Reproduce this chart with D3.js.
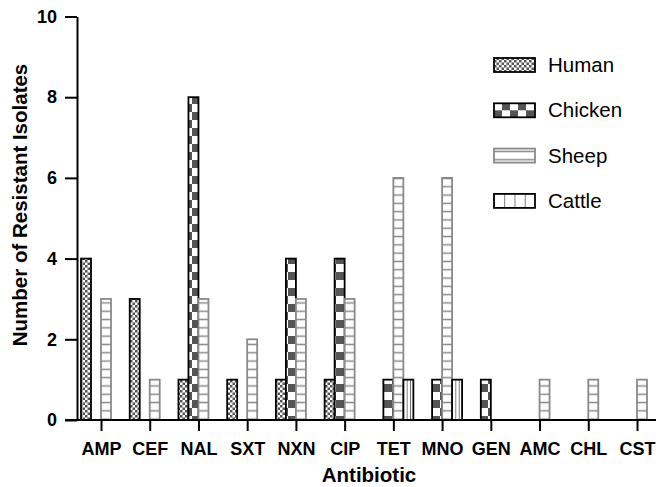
<!DOCTYPE html>
<html>
<head>
<meta charset="utf-8">
<script src="https://cdn.jsdelivr.net/npm/d3@7"></script>
<style>
  body { margin: 0; background: #fff; }
  svg { display: block; font-family: "Liberation Sans", Arial, Helvetica, sans-serif; }
</style>
</head>
<body>
<div id="chart"></div>
<script>
// data
const antibiotics = ["AMP", "CEF", "NAL", "SXT", "NXN", "CIP", "TET", "MNO", "GEN", "AMC", "CHL", "CST"];
const hosts = ["Human", "Chicken", "Sheep", "Cattle"];
const human   = [4, 3, 1, 1, 1, 1, 0, 0, 0, 0, 0, 0];
const chicken = [0, 0, 8, 0, 4, 4, 1, 1, 1, 0, 0, 0];
const sheep   = [3, 1, 3, 2, 3, 3, 6, 6, 0, 1, 1, 1];
const cattle  = [0, 0, 0, 0, 0, 0, 1, 1, 0, 0, 0, 0];
const yTicks = [0, 2, 4, 6, 8, 10];

const values = { Human: human, Chicken: chicken, Sheep: sheep, Cattle: cattle };
const bars = [];
antibiotics.forEach((ab, i) => {
  hosts.forEach((h) => {
    if (values[h][i] > 0) bars.push({ antibiotic: ab, host: h, value: values[h][i] });
  });
});

//size
const width = 656;
const height = 487;
const axisX = 77;
const axisY = 420;

//scale
const x0 = d3.scalePoint().domain(antibiotics).range([101, 637]);
const x1 = d3.scaleBand().domain(hosts).range([-20, 20]);
const y = d3.scaleLinear().domain([0, 10]).range([axisY, 16.5]);

const stroke = { Human: "#000", Chicken: "#000", Sheep: "#8a8a8a", Cattle: "#000" };

const svg = d3.select("#chart")
  .append("svg")
  .attr("width", width)
  .attr("height", height);

//patterns
const defs = svg.append("defs");
const dark = "#555";

const pHuman = defs.append("pattern").attr("id", "p-human")
  .attr("patternUnits", "userSpaceOnUse").attr("width", 5).attr("height", 5);
pHuman.append("rect").attr("width", 5).attr("height", 5).attr("fill", "#fff");
pHuman.append("rect").attr("width", 2.5).attr("height", 2.5).attr("fill", dark);
pHuman.append("rect").attr("x", 2.5).attr("y", 2.5).attr("width", 2.5).attr("height", 2.5).attr("fill", dark);

const pChicken = defs.append("pattern").attr("id", "p-chicken")
  .attr("patternUnits", "userSpaceOnUse").attr("width", 16).attr("height", 16);
pChicken.append("rect").attr("width", 16).attr("height", 16).attr("fill", "#fff");
pChicken.append("rect").attr("width", 8).attr("height", 8).attr("fill", dark);
pChicken.append("rect").attr("x", 8).attr("y", 8).attr("width", 8).attr("height", 8).attr("fill", dark);

const pSheep = defs.append("pattern").attr("id", "p-sheep")
  .attr("patternUnits", "userSpaceOnUse").attr("width", 10).attr("height", 8.3);
pSheep.append("rect").attr("width", 10).attr("height", 8.3).attr("fill", "#fff");
pSheep.append("rect").attr("y", 3.4).attr("width", 10).attr("height", 1.5).attr("fill", "#8a8a8a");

function cattlePattern(id, frac) {
  const p = defs.append("pattern").attr("id", id)
    .attr("patternUnits", "objectBoundingBox").attr("width", frac).attr("height", 1);
  p.append("rect").attr("width", 100).attr("height", 1000).attr("fill", "#fff");
  p.append("rect").attr("x", -0.6).attr("width", 1.2).attr("height", 1000).attr("fill", "#222");
}
cattlePattern("p-cattle", 1 / 3);
cattlePattern("p-cattle-legend", 1 / 4);

const fill = { Human: "url(#p-human)", Chicken: "url(#p-chicken)", Sheep: "url(#p-sheep)", Cattle: "url(#p-cattle)" };
const legendFill = { ...fill, Cattle: "url(#p-cattle-legend)" };

//bars
svg.append("g")
  .selectAll("rect.bar")
  .data(bars)
  .join("rect")
  .attr("class", "bar")
  .attr("x", (d) => x0(d.antibiotic) + x1(d.host))
  .attr("y", (d) => y(d.value))
  .attr("width", x1.bandwidth())
  .attr("height", (d) => y(0) - y(d.value))
  .attr("fill", (d) => fill[d.host])
  .attr("stroke", (d) => stroke[d.host])
  .attr("stroke-width", 1.8);

//axes
const yAxisG = svg.append("g")
  .attr("transform", `translate(${axisX},0)`)
  .call(d3.axisLeft(y).tickValues(yTicks).tickSize(12).tickPadding(8).tickSizeOuter(0));

const xAxisG = svg.append("g")
  .attr("transform", `translate(0,${axisY})`)
  .call(d3.axisBottom(x0).tickSize(11).tickPadding(11).tickSizeOuter(0));
xAxisG.select(".domain").remove();
xAxisG.append("line")
  .attr("class", "baseline")
  .attr("x1", axisX - 12)
  .attr("x2", width)
  .attr("stroke", "#000");

[yAxisG, xAxisG].forEach((g) => {
  g.attr("font-family", null).attr("font-size", null);
  g.selectAll("path, line").attr("stroke", "#000").attr("stroke-width", 2);
  g.selectAll("text")
    .attr("fill", "#000")
    .style("font-size", "18px")
    .style("font-weight", "bold");
});

//axis titles
svg.append("text")
  .attr("transform", "translate(26.5,205) rotate(-90)")
  .attr("text-anchor", "middle")
  .style("font-size", "20.5px")
  .style("font-weight", "bold")
  .text("Number of Resistant Isolates");

svg.append("text")
  .attr("x", 369)
  .attr("y", 482)
  .attr("text-anchor", "middle")
  .style("font-size", "20.5px")
  .style("font-weight", "bold")
  .text("Antibiotic");

//legend
const legend = svg.append("g")
  .selectAll("g.legend-item")
  .data(hosts)
  .join("g")
  .attr("class", "legend-item")
  .attr("transform", (d, i) => `translate(494,${65 + i * 45.3})`);

legend.append("rect")
  .attr("x", 0)
  .attr("y", -7)
  .attr("width", 41)
  .attr("height", 14)
  .attr("fill", (d) => legendFill[d])
  .attr("stroke", (d) => stroke[d])
  .attr("stroke-width", 1.8);

legend.append("text")
  .attr("x", 54)
  .attr("y", 0)
  .attr("dy", "0.35em")
  .style("font-size", "20.5px")
  .text((d) => d);
</script>
</body>
</html>
